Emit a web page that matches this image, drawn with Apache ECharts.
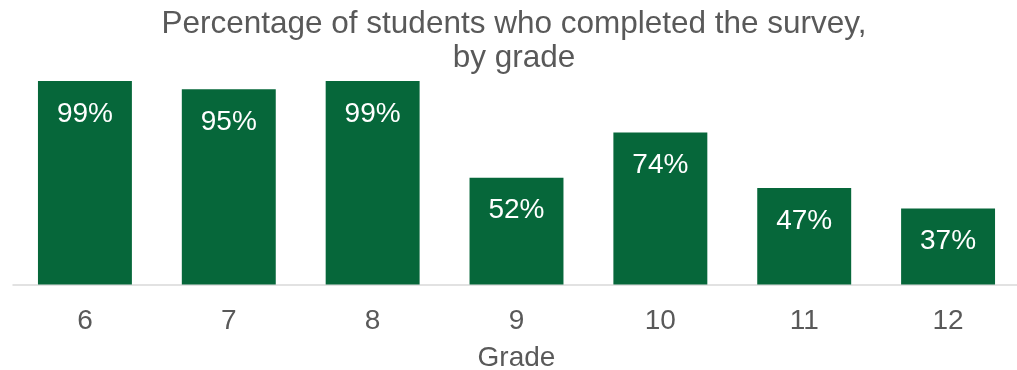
<!DOCTYPE html>
<html>
<head>
<meta charset="utf-8">
<script src="https://cdn.jsdelivr.net/npm/echarts@6/dist/echarts.min.js"></script>
<style>
  html, body { margin: 0; padding: 0; background: #fff; }
  #chart { width: 1017px; height: 370px; }
</style>
</head>
<body>
<div id="chart"></div>
<script>
  // grades and completion rate (%)
  let grades = ["6", "7", "8", "9", "10", "11", "12"];
  let completed = [99, 95, 99, 52, 74, 47, 37];

  var myChart = echarts.init(document.getElementById("chart"));

  let options = {
    animation: false,
    title: {
      text: "Percentage of students who completed the survey,\nby grade",
      left: 514,
      top: 7,
      padding: 0,
      textAlign: "center",
      textStyle: {
        color: "#595959",
        fontFamily: "Liberation Sans",
        fontWeight: "normal",
        fontSize: 31.5,
        lineHeight: 34,
      },
    },
    grid: {
      left: 13,
      right: -3,
      top: 79,
      bottom: 85.5,
      outerBoundsMode: "none",
      containLabel: false,
    },
    xAxis: {
      type: "category",
      data: grades,
      name: "Grade",
      nameLocation: "middle",
      nameGap: 60,
      nameTextStyle: {
        color: "#595959",
        fontFamily: "Liberation Sans",
        fontSize: 28,
      },
      axisLine: { lineStyle: { color: "#D9D9D9", width: 1.5 } },
      axisTick: { show: false },
      axisLabel: {
        color: "#595959",
        fontFamily: "Liberation Sans",
        fontSize: 28,
        margin: 23,
      },
    },
    yAxis: {
      type: "value",
      min: 0,
      max: 100,
      show: false,
    },
    series: [
      {
        type: "bar",
        data: completed,
        barCategoryGap: "34.7%",
        itemStyle: { color: "#06673A" },
        label: {
          show: true,
          position: "insideTop",
          distance: 19,
          color: "#fff",
          fontFamily: "Liberation Sans",
          fontSize: 28,
          formatter: "{c}%",
        },
      },
    ],
  };
  myChart.setOption(options);
  window.addEventListener("resize", function() {
    myChart.resize();
  });
</script>
</body>
</html>
